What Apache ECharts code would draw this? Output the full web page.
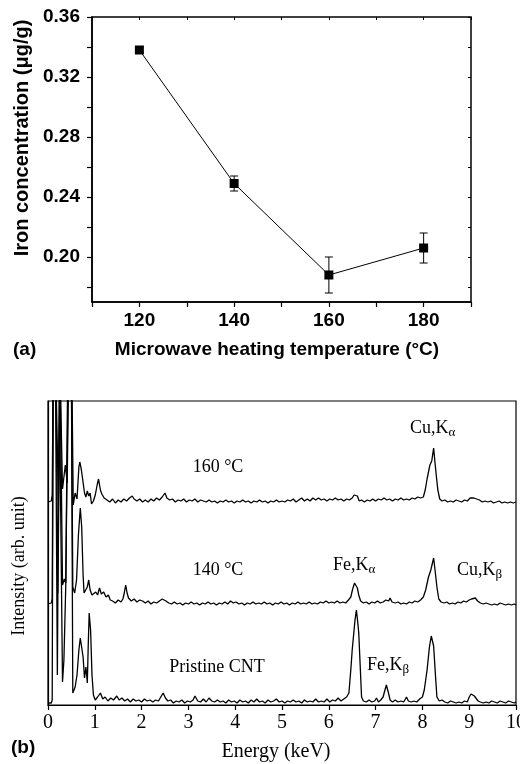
<!DOCTYPE html>
<html>
<head>
<meta charset="utf-8">
<script src="https://cdn.jsdelivr.net/npm/echarts@6/dist/echarts.min.js"></script>
<style>
  html, body { margin: 0; padding: 0; background: #fff; }
  #chart { width: 520px; height: 764px; }
</style>
</head>
<body>
<div id="chart"></div>
<script>
// (a) iron concentration vs microwave heating temperature
const tempC = [120, 140, 160, 180];
const ironConc = [0.338, 0.249, 0.188, 0.206];
const ironErr = [0.002, 0.005, 0.012, 0.010];
const tempLabels = [120, 140, 160, 180];
const tempTicks = [110, 120, 130, 140, 150, 160, 170, 180, 190];
const concLabels = [0.20, 0.24, 0.28, 0.32, 0.36];
const concTicks = [0.18, 0.20, 0.22, 0.24, 0.26, 0.28, 0.30, 0.32, 0.34, 0.36];

// (b) EDS spectra, [energy keV, intensity arb.] (traces offset vertically)
const spec160 = [
  [0,203],[0.07,204],[0.09,210],[0.11,330],[0.17,330],[0.22,205],[0.26,330],[0.29,330],[0.31,216],[0.34,214],
  [0.37,240],[0.41,222],[0.44,330],[0.51,330],[0.54,200],[0.58,212],[0.62,206],[0.66,238],[0.68,243],[0.71,236],
  [0.74,226],[0.78,212],[0.81,208],[0.84,214],[0.87,209],[0.9,212],[0.93,201],[0.97,204],[1.01,210],[1.05,220],
  [1.08,226],[1.12,215],[1.15,211],[1.2,207],[1.26,205],[1.32,203],[1.38,206],[1.44,202],[1.5,205],[1.56,203],
  [1.62,206],[1.68,204],[1.74,207],[1.8,209],[1.84,206],[1.9,204],[1.96,206],[2.02,203],[2.08,205],[2.14,203],
  [2.2,206],[2.26,204],[2.32,207],[2.38,205],[2.44,208],[2.5,212],[2.54,207],[2.6,205],[2.66,206],[2.72,203],
  [2.78,205],[2.84,204],[2.9,206],[2.96,203],[3.02,205],[3.08,204],[3.14,206],[3.2,203],[3.26,205],[3.32,204],
  [3.38,203],[3.44,205],[3.5,203],[3.56,204],[3.62,202],[3.68,204],[3.74,203],[3.8,205],[3.86,203],[3.92,204],
  [3.98,202],[4.04,204],[4.1,203],[4.16,205],[4.22,203],[4.28,204],[4.34,202],[4.4,204],[4.46,203],[4.52,205],
  [4.58,203],[4.64,204],[4.7,202],[4.76,204],[4.82,203],[4.88,205],[4.94,203],[5.0,204],[5.06,203],[5.12,205],
  [5.18,204],[5.24,206],[5.3,203],[5.36,205],[5.42,207],[5.48,204],[5.54,206],[5.6,204],[5.66,207],[5.72,205],
  [5.78,207],[5.84,205],[5.9,206],[5.96,204],[6.02,206],[6.08,205],[6.14,207],[6.2,205],[6.26,206],[6.32,204],
  [6.38,206],[6.44,205],[6.5,207],[6.54,210],[6.57,212],[6.61,209],[6.65,204],[6.7,205],[6.76,203],[6.82,205],
  [6.88,204],[6.94,206],[7.0,204],[7.06,206],[7.12,205],[7.18,207],[7.24,205],[7.3,206],[7.36,204],[7.42,206],
  [7.48,205],[7.54,207],[7.6,205],[7.66,206],[7.72,205],[7.78,207],[7.84,206],[7.9,208],[7.96,207],[8.02,208],
  [8.06,215],[8.1,226],[8.16,240],[8.2,244],[8.24,257],[8.27,242],[8.3,228],[8.33,215],[8.37,206],[8.42,204],
  [8.48,205],[8.54,203],[8.6,204],[8.66,203],[8.72,205],[8.78,204],[8.84,203],[8.9,205],[8.96,204],[9.02,207],
  [9.06,208],[9.1,207],[9.16,206],[9.22,205],[9.28,203],[9.34,204],[9.4,203],[9.46,204],[9.52,202],[9.58,203],
  [9.64,204],[9.7,202],[9.76,203],[9.82,202],[9.88,203],[9.94,202],[10,203]
];
const spec140 = [
  [0,101],[0.07,102],[0.09,106],[0.11,330],[0.17,330],[0.21,112],[0.26,330],[0.29,330],[0.31,120],[0.35,126],
  [0.38,122],[0.43,330],[0.5,330],[0.53,118],[0.57,112],[0.61,125],[0.65,170],[0.69,197],[0.72,178],[0.75,130],
  [0.77,112],[0.81,110],[0.84,118],[0.87,125],[0.9,115],[0.94,110],[0.98,108],[1.02,113],[1.06,110],[1.1,117],
  [1.14,111],[1.19,113],[1.24,108],[1.29,110],[1.33,105],[1.38,104],[1.44,102],[1.5,105],[1.56,103],[1.6,106],
  [1.63,112],[1.66,120],[1.69,112],[1.72,107],[1.78,104],[1.84,106],[1.9,103],[1.96,105],[2.02,104],[2.08,102],
  [2.14,104],[2.2,101],[2.26,103],[2.32,102],[2.38,104],[2.44,106],[2.48,108],[2.52,104],[2.58,102],[2.64,101],
  [2.7,103],[2.76,101],[2.82,102],[2.88,100],[2.94,102],[3.0,101],[3.06,103],[3.12,101],[3.18,102],[3.24,100],
  [3.3,102],[3.36,101],[3.42,103],[3.48,101],[3.54,102],[3.6,100],[3.66,102],[3.72,101],[3.78,103],[3.84,101],
  [3.9,104],[3.96,102],[4.02,103],[4.08,101],[4.14,102],[4.2,100],[4.26,102],[4.32,101],[4.38,103],[4.44,101],
  [4.5,102],[4.56,101],[4.62,103],[4.68,101],[4.74,102],[4.8,100],[4.86,102],[4.92,101],[4.98,103],[5.04,101],
  [5.1,102],[5.16,100],[5.22,102],[5.28,101],[5.34,103],[5.4,101],[5.46,102],[5.52,101],[5.58,103],[5.64,101],
  [5.7,102],[5.76,101],[5.82,103],[5.88,102],[5.94,104],[6.0,102],[6.06,103],[6.12,102],[6.18,104],[6.24,102],
  [6.3,103],[6.36,102],[6.42,105],[6.47,108],[6.51,116],[6.55,122],[6.58,124],[6.61,117],[6.64,110],[6.68,104],
  [6.74,102],[6.8,103],[6.86,101],[6.92,103],[6.98,102],[7.04,104],[7.1,102],[7.16,103],[7.22,105],[7.28,104],
  [7.31,107],[7.35,103],[7.42,102],[7.48,103],[7.54,101],[7.6,102],[7.66,101],[7.72,103],[7.78,102],[7.84,104],
  [7.9,103],[7.96,105],[8.02,108],[8.07,115],[8.13,128],[8.18,135],[8.24,147],[8.27,135],[8.31,118],[8.35,106],
  [8.4,103],[8.46,102],[8.52,103],[8.58,101],[8.64,102],[8.7,101],[8.76,103],[8.82,102],[8.88,104],[8.94,103],
  [9.0,105],[9.05,106],[9.09,108],[9.13,107],[9.18,104],[9.24,102],[9.3,101],[9.36,102],[9.42,101],[9.48,100],
  [9.54,101],[9.6,100],[9.66,102],[9.72,101],[9.78,100],[9.84,101],[9.9,100],[9.96,101],[10,100]
];
const specPristine = [
  [0,2],[0.07,2],[0.09,5],[0.11,330],[0.16,330],[0.2,30],[0.24,330],[0.28,330],[0.31,23],[0.34,45],
  [0.38,120],[0.42,330],[0.5,330],[0.53,12],[0.58,18],[0.62,30],[0.66,55],[0.69,67],[0.72,65],[0.75,48],
  [0.78,27],[0.81,38],[0.84,22],[0.86,60],[0.88,92],[0.91,75],[0.94,30],[0.97,10],[1.01,5],[1.06,8],
  [1.12,12],[1.17,6],[1.22,8],[1.28,4],[1.34,7],[1.4,5],[1.47,9],[1.52,5],[1.58,7],[1.64,4],
  [1.7,6],[1.76,3],[1.82,6],[1.88,4],[1.94,5],[2.0,3],[2.06,6],[2.12,4],[2.18,5],[2.24,3],
  [2.3,5],[2.36,4],[2.41,8],[2.46,12],[2.51,7],[2.56,4],[2.62,5],[2.68,2],[2.74,4],[2.8,3],
  [2.86,5],[2.92,2],[2.98,4],[3.04,3],[3.1,5],[3.14,9],[3.2,4],[3.26,3],[3.32,6],[3.38,3],
  [3.44,7],[3.5,4],[3.56,3],[3.62,5],[3.68,3],[3.74,4],[3.8,2],[3.86,5],[3.92,3],[3.98,4],
  [4.04,2],[4.1,5],[4.16,3],[4.22,4],[4.28,2],[4.34,5],[4.4,3],[4.46,6],[4.52,3],[4.58,4],
  [4.64,2],[4.7,5],[4.76,3],[4.82,4],[4.88,6],[4.94,3],[5.0,4],[5.06,2],[5.12,4],[5.18,3],
  [5.24,5],[5.3,3],[5.36,4],[5.42,2],[5.48,5],[5.54,3],[5.6,4],[5.66,3],[5.72,6],[5.78,3],
  [5.84,4],[5.9,3],[5.96,6],[6.02,3],[6.08,5],[6.14,4],[6.2,7],[6.26,4],[6.32,6],[6.38,8],
  [6.43,12],[6.47,35],[6.5,55],[6.53,70],[6.56,85],[6.59,95],[6.62,82],[6.64,72],[6.67,40],[6.7,8],
  [6.74,4],[6.8,3],[6.86,5],[6.92,3],[6.98,4],[7.02,7],[7.06,3],[7.11,5],[7.16,8],[7.2,15],
  [7.23,20],[7.27,13],[7.31,5],[7.36,3],[7.42,5],[7.48,3],[7.54,4],[7.6,3],[7.66,8],[7.7,4],
  [7.76,3],[7.82,4],[7.88,3],[7.94,6],[8.0,8],[8.04,15],[8.1,35],[8.15,58],[8.19,69],[8.24,59],
  [8.28,29],[8.31,8],[8.36,4],[8.42,5],[8.48,3],[8.54,2],[8.6,4],[8.66,3],[8.72,2],[8.78,3],
  [8.84,2],[8.9,4],[8.96,3],[9.0,8],[9.04,11],[9.07,13],[9.11,9],[9.15,10],[9.19,4],[9.24,3],
  [9.3,2],[9.36,3],[9.42,2],[9.48,4],[9.54,3],[9.6,2],[9.66,4],[9.72,3],[9.78,2],[9.84,4],
  [9.9,3],[9.96,2],[10,3]
];

const SANS = "'Liberation Sans', Arial, sans-serif";
const SERIF = "'Liberation Serif', 'Times New Roman', serif";

const chart = echarts.init(document.getElementById('chart'), null, { renderer: 'canvas' });

// measure text so subscripts sit right after the main text
const ctx = document.createElement('canvas').getContext('2d');
function textW(str, size) {
  ctx.font = size + 'px ' + SERIF;
  return ctx.measureText(str).width;
}
function subLabel(x, y, main, sub) {
  return [
    { type: 'text', x: x, y: y, style: { text: main, font: '18px ' + SERIF, fill: '#000', align: 'left', verticalAlign: 'middle' } },
    { type: 'text', x: x + textW(main, 18), y: y + 5, style: { text: sub, font: '13px ' + SERIF, fill: '#000', align: 'left', verticalAlign: 'middle' } }
  ];
}
function plainLabel(x, y, str) {
  return { type: 'text', x: x, y: y, style: { text: str, font: '18px ' + SERIF, fill: '#000', align: 'center', verticalAlign: 'middle' } };
}

const tickOnly = (extra) => Object.assign({
  type: 'value',
  axisLine: { show: false },
  axisLabel: { show: false },
  splitLine: { show: false }
}, extra);

const option = {
  animation: false,
  backgroundColor: '#fff',
  grid: [
    { left: 92, top: 17, width: 379, height: 285, containLabel: false, outerBoundsMode: 'none',
      show: true, borderColor: '#000', borderWidth: 1.5 },
    { left: 48, top: 401, width: 468, height: 304, containLabel: false, outerBoundsMode: 'none',
      show: true, borderColor: '#000', borderWidth: 1.2 }
  ],
  xAxis: [
    {
      gridIndex: 0, type: 'value', min: 110, max: 190,
      axisLine: { lineStyle: { color: '#000', width: 1.5 } },
      axisTick: { customValues: tempTicks, length: 5, lineStyle: { color: '#000', width: 1.2 } },
      axisLabel: { customValues: tempLabels, margin: 9, color: '#000', fontFamily: SANS, fontWeight: 'bold', fontSize: 19 },
      splitLine: { show: false }
    },
    {
      gridIndex: 1, type: 'value', min: 0, max: 10, interval: 1,
      axisLine: { lineStyle: { color: '#000', width: 1.2 } },
      axisTick: { length: 5, lineStyle: { color: '#000', width: 1.2 } },
      axisLabel: { margin: 8, color: '#000', fontFamily: SERIF, fontSize: 20, hideOverlap: false, showMaxLabel: true },
      splitLine: { show: false }
    },
    tickOnly({ gridIndex: 0, position: 'top', min: 110, max: 190,
      axisTick: { show: true, inside: true, length: 3, customValues: tempTicks, lineStyle: { color: '#000', width: 1 } } })
  ],
  yAxis: [
    {
      gridIndex: 0, type: 'value', min: 0.17, max: 0.36,
      axisLine: { lineStyle: { color: '#000', width: 1.5 } },
      axisTick: { customValues: concTicks, length: 5, lineStyle: { color: '#000', width: 1.2 } },
      axisLabel: { customValues: concLabels, margin: 12, color: '#000', fontFamily: SANS, fontWeight: 'bold', fontSize: 19,
        formatter: v => v.toFixed(2) },
      splitLine: { show: false }
    },
    {
      gridIndex: 1, type: 'value', min: 0, max: 304,
      axisLine: { lineStyle: { color: '#000', width: 1.2 } },
      axisTick: { show: false },
      axisLabel: { show: false },
      splitLine: { show: false }
    },
    tickOnly({ gridIndex: 0, position: 'right', min: 0.17, max: 0.36,
      axisTick: { show: true, inside: true, length: 3, customValues: concTicks, lineStyle: { color: '#000', width: 1 } } })
  ],
  series: [
    {
      type: 'custom',
      xAxisIndex: 0, yAxisIndex: 0,
      data: tempC.map((t, i) => [t, ironConc[i], ironErr[i]]),
      z: 2,
      renderItem: function (params, api) {
        const x = api.value(0), y = api.value(1), e = api.value(2);
        const hi = api.coord([x, y + e]);
        const lo = api.coord([x, y - e]);
        const cap = 4;
        const st = { stroke: '#000', lineWidth: 1 };
        return {
          type: 'group',
          children: [
            { type: 'line', shape: { x1: hi[0], y1: hi[1], x2: lo[0], y2: lo[1] }, style: st },
            { type: 'line', shape: { x1: hi[0] - cap, y1: hi[1], x2: hi[0] + cap, y2: hi[1] }, style: st },
            { type: 'line', shape: { x1: lo[0] - cap, y1: lo[1], x2: lo[0] + cap, y2: lo[1] }, style: st }
          ]
        };
      }
    },
    {
      type: 'line',
      xAxisIndex: 0, yAxisIndex: 0,
      data: tempC.map((t, i) => [t, ironConc[i]]),
      symbol: 'rect', symbolSize: 9, showAllSymbol: true,
      itemStyle: { color: '#000' },
      lineStyle: { color: '#000', width: 1 },
      z: 3
    },
    {
      type: 'line', xAxisIndex: 1, yAxisIndex: 1, data: spec160, clip: true,
      showSymbol: false, lineStyle: { color: '#000', width: 1.3 }
    },
    {
      type: 'line', xAxisIndex: 1, yAxisIndex: 1, data: spec140, clip: true,
      showSymbol: false, lineStyle: { color: '#000', width: 1.3 }
    },
    {
      type: 'line', xAxisIndex: 1, yAxisIndex: 1, data: specPristine, clip: true,
      showSymbol: false, lineStyle: { color: '#000', width: 1.3 }
    }
  ],
  graphic: [
    { type: 'text', x: 22, y: 138, rotation: Math.PI / 2,
      style: { text: 'Iron concentration (\u03bcg/g)', font: 'bold 20px ' + SANS, fill: '#000', align: 'center', verticalAlign: 'middle' } },
    { type: 'text', x: 277, y: 350,
      style: { text: 'Microwave heating temperature (\u00b0C)', font: 'bold 19px ' + SANS, fill: '#000', align: 'center', verticalAlign: 'middle' } },
    { type: 'text', x: 13, y: 350,
      style: { text: '(a)', font: 'bold 19px ' + SANS, fill: '#000', align: 'left', verticalAlign: 'middle' } },
    { type: 'text', x: 19, y: 566, rotation: Math.PI / 2,
      style: { text: 'Intensity (arb. unit)', font: '18px ' + SERIF, fill: '#000', align: 'center', verticalAlign: 'middle' } },
    { type: 'text', x: 276, y: 752,
      style: { text: 'Energy (keV)', font: '20px ' + SERIF, fill: '#000', align: 'center', verticalAlign: 'middle' } },
    { type: 'text', x: 11, y: 748,
      style: { text: '(b)', font: 'bold 19px ' + SANS, fill: '#000', align: 'left', verticalAlign: 'middle' } },
    plainLabel(218, 467, '160 \u00b0C'),
    plainLabel(218, 570, '140 \u00b0C'),
    plainLabel(217, 667, 'Pristine CNT'),
    ...subLabel(410, 428, 'Cu,K', '\u03b1'),
    ...subLabel(333, 565, 'Fe,K', '\u03b1'),
    ...subLabel(457, 570, 'Cu,K', '\u03b2'),
    ...subLabel(367, 665, 'Fe,K', '\u03b2')
  ]
};

chart.setOption(option);
</script>
</body>
</html>
